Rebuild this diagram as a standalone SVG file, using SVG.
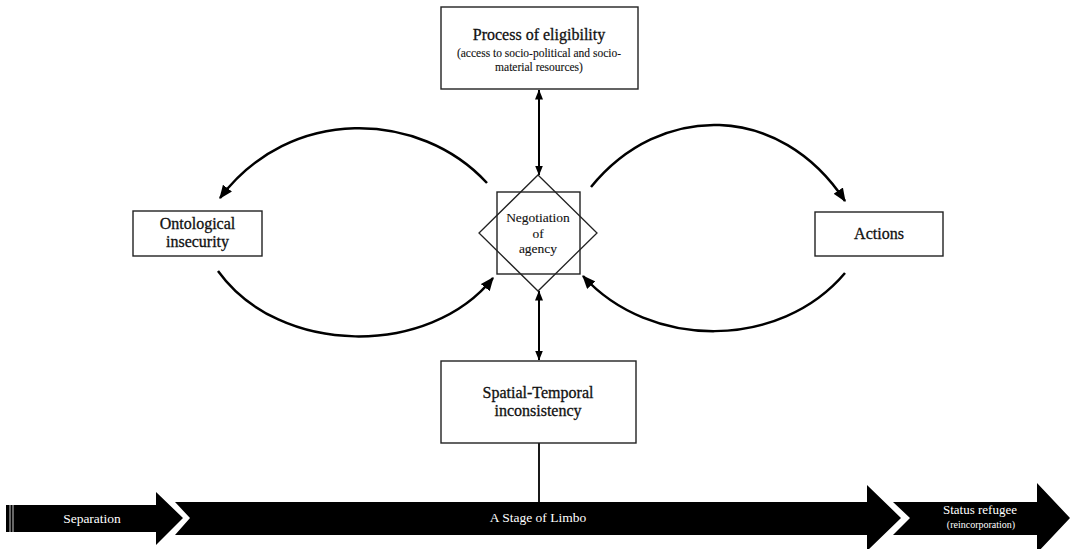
<svg xmlns="http://www.w3.org/2000/svg" width="1071" height="549" viewBox="0 0 1071 549">
<style>
.box{fill:#fff;stroke:#222;stroke-width:1.4}
.t{font-family:"Liberation Serif","Times New Roman",serif;fill:#111;stroke:#111;stroke-width:0.3;text-anchor:middle}
.s{stroke-width:0.12}
.w{font-family:"Liberation Serif","Times New Roman",serif;fill:#fff;text-anchor:middle}
.arc{fill:none;stroke:#000;stroke-width:2.5}
.dbl{fill:none;stroke:#000;stroke-width:2}
</style>
<defs>
<marker id="ah" viewBox="0 0 12 10" refX="11" refY="5" markerWidth="5.4" markerHeight="4.5" markerUnits="strokeWidth" orient="auto">
<path d="M0,0 L12,5 L0,10 Z" fill="#000"/>
</marker>
<marker id="sh" viewBox="0 0 10 8" refX="9.5" refY="4" markerWidth="5" markerHeight="4" markerUnits="strokeWidth" orient="auto-start-reverse">
<path d="M0,0 L10,4 L0,8 Z" fill="#000"/>
</marker>
</defs>
<rect width="1071" height="549" fill="#fff"/>

<g id="timeline">
<path d="M6,505 H156 V492 L183,518 L156,545 V532 H6 Z" fill="#000"/>
<line x1="10" y1="505" x2="10" y2="532" stroke="#fff" stroke-width="0.8"/>
<line x1="13" y1="505" x2="13" y2="532" stroke="#fff" stroke-width="0.8"/>
<path d="M175,502 H867 V485 L901,518 L867,551 V535 H175 L190,518 Z" fill="#000"/>
<path d="M893,502 H1037 V483 L1070,518 L1037,553 V535 H893 L910,518 Z" fill="#000"/>
<text class="w" x="92" y="523" font-size="13.5">Separation</text>
<text class="w" x="538" y="522" font-size="13.5">A Stage of Limbo</text>
<text class="w" x="980" y="514" font-size="13">Status refugee</text>
<text class="w" x="981" y="528" font-size="10">(reincorporation)</text>
</g>

<g id="connectors">
<path class="arc" d="M487,183 C420,110 290,105 220,198" marker-end="url(#ah)"/>
<path class="arc" d="M218,271 C280,357 430,357 493,278" marker-end="url(#ah)"/>
<path class="arc" d="M591,187 C660,102 780,102 845,201" marker-end="url(#ah)"/>
<path class="arc" d="M845,273 C780,350 650,350 583,276" marker-end="url(#ah)"/>
<line class="dbl" x1="539" y1="90" x2="539" y2="175" marker-start="url(#sh)" marker-end="url(#sh)"/>
<line class="dbl" x1="539" y1="291" x2="539" y2="360" marker-start="url(#sh)" marker-end="url(#sh)"/>
<line x1="539" y1="443" x2="539" y2="502" stroke="#000" stroke-width="1.8"/>
</g>

<g id="eligibility">
<rect class="box" x="441" y="7" width="197" height="82"/>
<text class="t" x="539" y="40" font-size="16">Process of eligibility</text>
<text class="t s" x="539" y="57" font-size="11.5">(access to socio-political and socio-</text>
<text class="t s" x="539" y="71" font-size="11.5">material resources)</text>
</g>

<g id="agency">
<rect class="box" x="497" y="192" width="83" height="82" stroke-width="1.3"/>
<path d="M538,175 L597,233 L538,291 L479,233 Z" fill="none" stroke="#222" stroke-width="1.3"/>
<text class="t s" x="538" y="222" font-size="13.5">Negotiation</text>
<text class="t s" x="538" y="238" font-size="13.5">of</text>
<text class="t s" x="538" y="253" font-size="13.5">agency</text>
</g>

<g id="ontological">
<rect class="box" x="133" y="211" width="129" height="45"/>
<text class="t" x="197.5" y="229" font-size="16">Ontological</text>
<text class="t" x="197.5" y="247" font-size="16">insecurity</text>
</g>

<g id="actions">
<rect class="box" x="815" y="212" width="128" height="44"/>
<text class="t" x="879" y="239" font-size="16">Actions</text>
</g>

<g id="spatial">
<rect class="box" x="441" y="361" width="195" height="82"/>
<text class="t" x="538" y="398" font-size="16">Spatial-Temporal</text>
<text class="t" x="538" y="416" font-size="16">inconsistency</text>
</g>
</svg>
